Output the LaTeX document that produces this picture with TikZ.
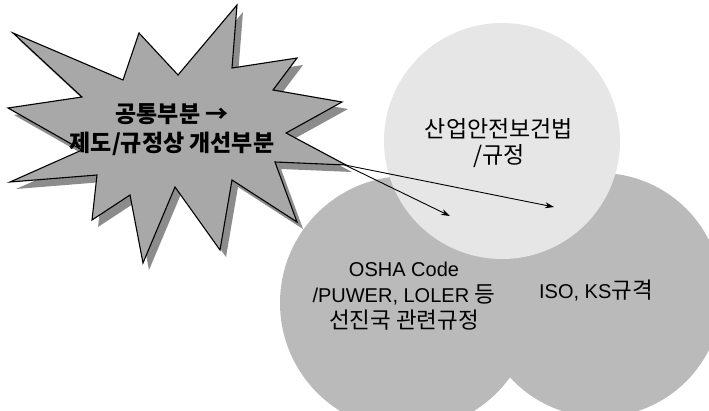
\documentclass[tikz,border=0pt]{standalone}
\usepackage{fontspec}
\setmainfont{Liberation Sans}
\newfontfamily\kr{Noto Sans CJK KR}
\newcommand{\krbig}{\kr\fontsize{22.5}{26}\selectfont}
\usetikzlibrary{arrows.meta}
\definecolor{starfill}{HTML}{A8A8A8}
\definecolor{starshadow}{HTML}{8C8C8C}
\definecolor{lawfill}{HTML}{E6E6E6}
\definecolor{circfill}{HTML}{BABABA}
\tikzset{
  starburst/.pic={
    \path[pic actions] (13,33) -- (123,80) -- (139,33) -- (178,75) -- (237,5) -- (232,68)
      -- (297,58) -- (273,90) -- (342,102) -- (286,133) -- (346,165) -- (275,162)
      -- (297,222) -- (232,180) -- (220,250) -- (175,187) -- (143,263) -- (130,195)
      -- (92,220) -- (97,175) -- (10,182) -- (82,150) -- (8,108) -- (82,97) -- cycle;
  },
  bigcircle/.style={circle, inner sep=0pt, align=center, text=black,
    font=\fontsize{20}{26}\selectfont},
  startext/.style={align=center, font=\fontsize{23}{29}\selectfont\kr\bfseries},
  arr/.style={draw=black, line width=0.9pt, -{Stealth[length=9pt,width=6pt]}}
}
\begin{document}
\begin{tikzpicture}[x=1pt,y=-1pt]
\useasboundingbox (0,0) rectangle (709,410);
\begin{scope}
\clip (0,0) rectangle (709,410);
\node[bigcircle, fill=circfill, minimum size=244pt] (iso) at (600,295) {};
\node[bigcircle, fill=circfill, minimum size=254pt] (osha) at (407,303) {};
\node[bigcircle, fill=lawfill, minimum size=236pt] (law) at (502,141) {};
\end{scope}
\node[bigcircle, font=\fontsize{23}{26}\selectfont\kr] (lawtext) at (499,143) {산업안전보건법\\/규정};
\node[bigcircle] (oshatext) at (404,296) {OSHA Code\\/PUWER, LOLER {\krbig 등}\\{\krbig 선진국 관련규정}};
\node[bigcircle] (isotext) at (596,290) {ISO, KS{\krbig 규격}};
\pic[fill=starshadow] at (6,7) {starburst};
\pic[fill=starfill, draw=black, line width=1.1pt, line join=miter] at (0,0) {starburst};
\node[startext] (common) at (172,130) {공통부분 →\\제도/규정상 개선부분};
\coordinate (tip) at (345,165);
\coordinate (end1) at (450,216);
\coordinate (end2) at (554,207);
\draw[arr] (tip) -- (end1);
\draw[arr] (tip) -- (end2);
\end{tikzpicture}
\end{document}
